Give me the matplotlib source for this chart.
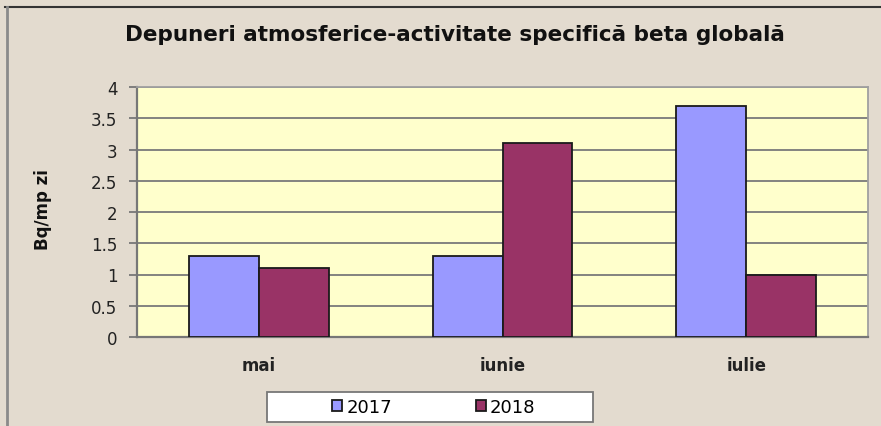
import numpy as np
import matplotlib
matplotlib.use("Agg")
import matplotlib.pyplot as plt
from matplotlib.lines import Line2D
from matplotlib.patches import Rectangle

months = ["mai", "iunie", "iulie"]
series_names = ["2017", "2018"]
values_2017 = [1.3, 1.3, 3.7]
values_2018 = [1.1, 3.1, 1.0]
y_ticks = [0, 0.5, 1, 1.5, 2, 2.5, 3, 3.5, 4]

W, H = 881, 427
FONT = "DejaVu Sans"
fig = plt.figure(figsize=(W / 100, H / 100), dpi=100)
fig.patch.set_facecolor("#e3dbcf")

# outer frame (only top and left edges are visible in the picture)
fig.lines.append(Line2D([5 / W, 1], [1 - 8 / H, 1 - 8 / H], transform=fig.transFigure,
                        color="#333333", linewidth=1.5))
fig.lines.append(Line2D([7 / W, 7 / W], [0, 1 - 8 / H], transform=fig.transFigure,
                        color="#8a8a8a", linewidth=2))

ax = fig.add_axes([137 / W, 1 - 338 / H, (868 - 137) / W, (338 - 88) / H])
ax.set_facecolor("#ffffcc")

x = np.arange(len(months))
bw = 0.287
ax.bar(x - bw / 2, values_2017, bw, color="#9999ff", edgecolor="#1a1a1a",
       linewidth=1.3, label=series_names[0], zorder=3)
ax.bar(x + bw / 2, values_2018, bw, color="#993366", edgecolor="#1a1a1a",
       linewidth=1.3, label=series_names[1], zorder=3)

ax.set_xlim(-0.5, 2.5)
ax.set_ylim(0, 4)
ax.set_yticks(y_ticks)
ax.set_yticklabels([f"{t:g}" for t in y_ticks], fontsize=12, color="#222222", family=FONT)
ax.set_xticks(x)
ax.set_xticklabels(months, fontsize=12, fontweight="bold", color="#222222", family=FONT)
ax.tick_params(axis="x", length=0, pad=14)
ax.tick_params(axis="y", length=6, color="#777777", width=1.3, pad=8)
ax.yaxis.grid(True, color="#7a7a7a", linewidth=1.3, zorder=0)
for side in ["top", "right"]:
    ax.spines[side].set_color("#a0a0a0")
    ax.spines[side].set_linewidth(1.3)
for side in ["left", "bottom"]:
    ax.spines[side].set_color("#777777")
    ax.spines[side].set_linewidth(1.6)

ax.set_ylabel("Bq/mp zi", fontsize=12, fontweight="bold", family=FONT, color="#111111")
ax.yaxis.set_label_coords((52 - 137) / 731, (338 - 210) / 250)

fig.text(455 / W, 1 - 35 / H, "Depuneri atmosferice-activitate specifică beta globală",
         ha="center", va="center", fontsize=15.5, fontweight="bold", family=FONT,
         color="#111111")

# legend box
fig.patches.append(Rectangle((267 / W, 1 - 423 / H), (593 - 267) / W, 30 / H,
                             transform=fig.transFigure, facecolor="white",
                             edgecolor="#777777", linewidth=1.3))
leg = fig.legend(loc="center", bbox_to_anchor=(434 / W, 1 - 408 / H), ncol=2,
                 frameon=False, handlelength=0.55, handleheight=0.55,
                 columnspacing=4.6, handletextpad=0.25,
                 prop={"family": FONT, "size": 13})
for h in leg.legend_handles:
    h.set_linewidth(1.3)

fig.savefig("out.png", dpi=100, facecolor=fig.get_facecolor())
